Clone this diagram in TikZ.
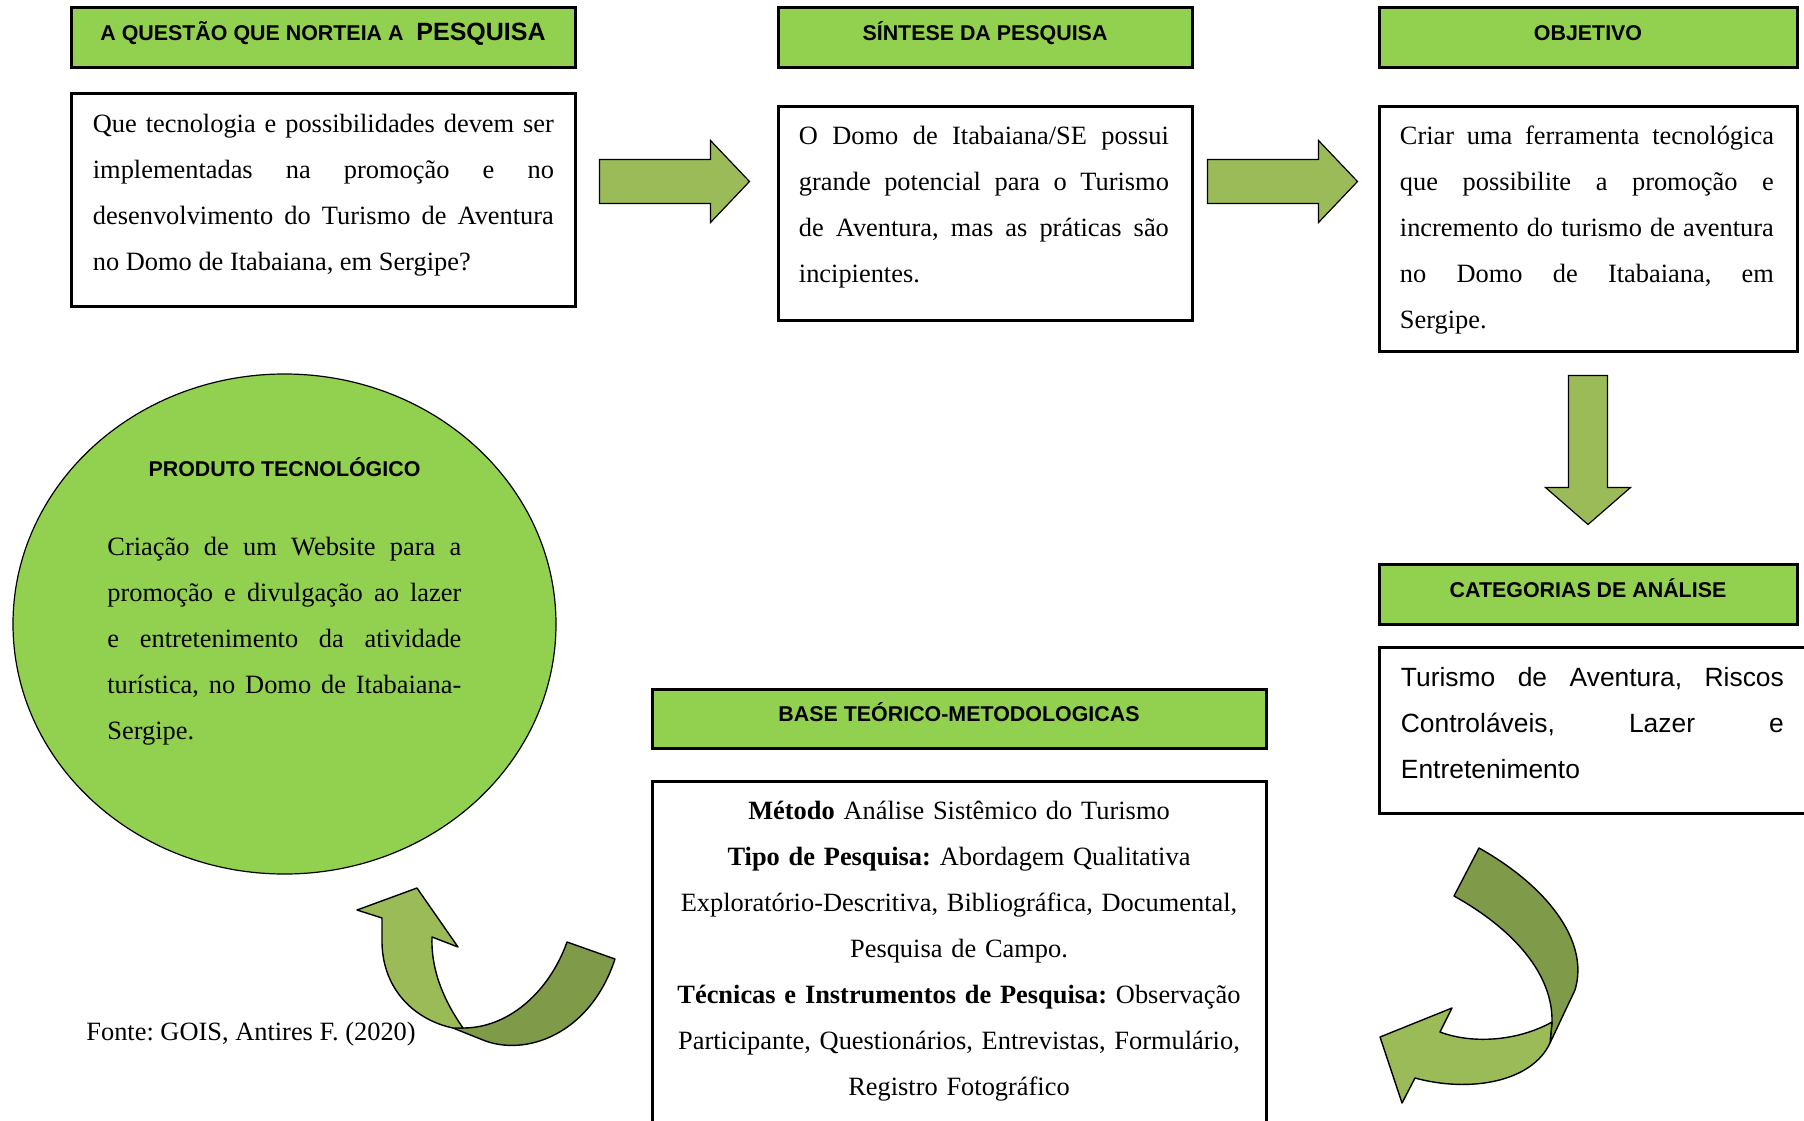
\documentclass[tikz,border=0pt]{standalone}
\usepackage{fontspec}
\setmainfont{Liberation Serif}
\setsansfont{Liberation Sans}
\usepackage{xcolor}
\usetikzlibrary{shapes.geometric, positioning, calc}

\definecolor{headgreen}{HTML}{92D050}
\definecolor{arrowlight}{HTML}{9BBB59}
\definecolor{arrowdark}{HTML}{7F9A48}
\frenchspacing

\begin{document}
\begin{tikzpicture}[
    x=0.5pt, y=-0.5pt,
    % --- BASE STYLES ---
    header/.style={rectangle, draw=black, line width=1.5pt, fill=headgreen, inner sep=0pt, text height=8pt, text depth=5pt, font=\sffamily\bfseries\fontsize{10.7}{13}\selectfont},
    framebox/.style={rectangle, draw=black, line width=1.5pt, fill=white, inner sep=0pt},
    bodytext/.style={inner sep=0pt, anchor=base west, align=justify, font=\fontsize{13.2}{23}\selectfont},
    bodysans/.style={bodytext, font=\sffamily\fontsize{13.2}{23}\selectfont},
    % --- ARROWS ---
    blockarrow/.style={draw=black, line width=0.6pt, fill=arrowlight},
    folddark/.style={draw=black, line width=0.7pt, line join=round, fill=arrowdark},
    foldlight/.style={draw=black, line width=0.7pt, line join=round, fill=arrowlight}
]
\path[use as bounding box, fill=white] (0,0) rectangle (1804,1120);

% ==========================================
% TOP ROW (QUESTION, SYNTHESIS, OBJECTIVE)
% ==========================================
\node[header, minimum width=252pt, minimum height=30pt] (hdquestao) at (323,37) {A QUESTÃO QUE NORTEIA A\hspace{0.6em}{\fontsize{12.5}{14}\selectfont PESQUISA}};
\node[framebox, minimum width=252pt, minimum height=106.5pt, below=11.5pt of hdquestao] (bxquestao) {};
\node[bodytext, text width=230.5pt] (txquestao) at ($(bxquestao.north west)+(23,41)$) {Que tecnologia e possibilidades devem ser\linebreak implementadas na promoção e no\linebreak desenvolvimento do Turismo de Aventura\linebreak no Domo de Itabaiana, em Sergipe?};

\node[header, minimum width=207pt, minimum height=30pt] (hdsintese) at (985,37) {SÍNTESE DA PESQUISA};
\node[framebox, minimum width=207pt, minimum height=107pt, below=18pt of hdsintese] (bxsintese) {};
\node[bodytext, text width=185pt] (txsintese) at ($(bxsintese.north west)+(22,40)$) {O Domo de Itabaiana/SE possui\linebreak grande potencial para o Turismo\linebreak de Aventura, mas as práticas são\linebreak incipientes.};

\node[header, minimum width=209pt, minimum height=30pt] (hdobjetivo) at (1588,37) {OBJETIVO};
\node[framebox, minimum width=209pt, minimum height=122.5pt, below=18pt of hdobjetivo] (bxobjetivo) {};
\node[bodytext, text width=187pt] (txobjetivo) at ($(bxobjetivo.north west)+(22,40)$) {Criar uma ferramenta tecnológica\linebreak que possibilite a promoção e\linebreak incremento do turismo de aventura\linebreak no Domo de Itabaiana, em\linebreak Sergipe.};

% Block arrows between the boxes
\coordinate (ar1) at ($(bxquestao.north east)+(23,68)$);
\draw[blockarrow] (ar1) -- ++(111,0) -- ++(0,-19) -- ++(39,41) -- ++(-39,41) -- ++(0,-19) -- ++(-111,0) -- cycle;
\coordinate (ar2) at ($(bxsintese.north east)+(14,55)$);
\draw[blockarrow] (ar2) -- ++(111,0) -- ++(0,-19) -- ++(39,41) -- ++(-39,41) -- ++(0,-19) -- ++(-111,0) -- cycle;
\coordinate (ar3) at ($(bxobjetivo.south)+(-19.5,23)$);
\draw[blockarrow] (ar3) -- ++(0,112) -- ++(-23,0) -- ++(42.5,37) -- ++(42.5,-37) -- ++(-23,0) -- ++(0,-112) -- cycle;

% ==========================================
% RIGHT SIDE (CATEGORIES)
% ==========================================
\node[header, minimum width=209pt, minimum height=30pt] (hdcategoria) at (1588,594) {CATEGORIAS DE ANÁLISE};
\node[framebox, minimum width=215.5pt, minimum height=83pt, below=10pt of hdcategoria, xshift=3.25pt] (bxcategoria) {};
\node[bodysans, text width=191.5pt] (txcategoria) at ($(bxcategoria.north west)+(23,41)$) {Turismo de Aventura, Riscos\linebreak Controláveis, Lazer e\linebreak Entretenimento};

% ==========================================
% MIDDLE (THEORY AND METHOD)
% ==========================================
\node[header, minimum width=307pt, minimum height=29.5pt] (hdbase) at (959,718.5) {BASE TEÓRICO-METODOLOGICAS};
\node[framebox, minimum width=307pt, minimum height=172.5pt, below=15pt of hdbase] (bxbase) {};
\node[bodytext, align=center, text width=300pt, anchor=base] (txbase) at ($(bxbase.north)+(0,39.5)$) {\textbf{Método} Análise Sistêmico do Turismo\\ \textbf{Tipo de Pesquisa:} Abordagem Qualitativa\\ Exploratório-Descritiva, Bibliográfica, Documental,\\ Pesquisa de Campo.\\ \textbf{Técnicas e Instrumentos de Pesquisa:} Observação\\ Participante, Questionários, Entrevistas, Formulário,\\ Registro Fotográfico};

% ==========================================
% LEFT SIDE (PRODUCT)
% ==========================================
\node[ellipse, draw=black, line width=0.6pt, fill=headgreen, minimum width=271.5pt, minimum height=250pt] (produto) at (284.5,624) {};
\node[inner sep=0pt, anchor=base, font=\sffamily\bfseries\fontsize{10.7}{13}\selectfont] (hdproduto) at ($(produto.center)+(0,-148)$) {PRODUTO TECNOLÓGICO};
\node[bodytext, text width=177pt] (txproduto) at ($(produto.center)+(-177.5,-69)$) {Criação de um Website para a\linebreak promoção e divulgação ao lazer\linebreak e entretenimento da atividade\linebreak turística, no Domo de Itabaiana-\linebreak Sergipe.};

\node[inner sep=0pt, anchor=base west, font=\fontsize{13.2}{16}\selectfont] (fonte) at (86,1040) {Fonte: GOIS, Antires F. (2020)};

% ==========================================
% CURVED ARROWS
% ==========================================
% base -> produto
\draw[folddark] (453,1028) -- (483,1040) .. controls (525,1057) and (590,1035) .. (615,959) -- (567,942) .. controls (550,990) and (510,1028) .. (463,1028) -- cycle;
\draw[foldlight] (463,1028) .. controls (440,995) and (431,965) .. (432,937) -- (458,947) -- (417,888) -- (357,910) -- (382,918) -- (382,943) .. controls (383,990) and (415,1020) .. (453,1028) -- cycle;

% categorias -> base
\draw[folddark] (1479,848) .. controls (1545,885) and (1590,940) .. (1575,990) -- (1550,1043) -- (1552,1022) .. controls (1553,975) and (1515,930) .. (1454,896) -- cycle;
\draw[foldlight] (1552,1022) .. controls (1520,1040) and (1475,1045) .. (1440,1032) -- (1452,1008) -- (1380,1037) -- (1402,1103) -- (1415,1078) .. controls (1470,1093) and (1532,1082) .. (1550,1043) -- cycle;

\end{tikzpicture}
\end{document}
